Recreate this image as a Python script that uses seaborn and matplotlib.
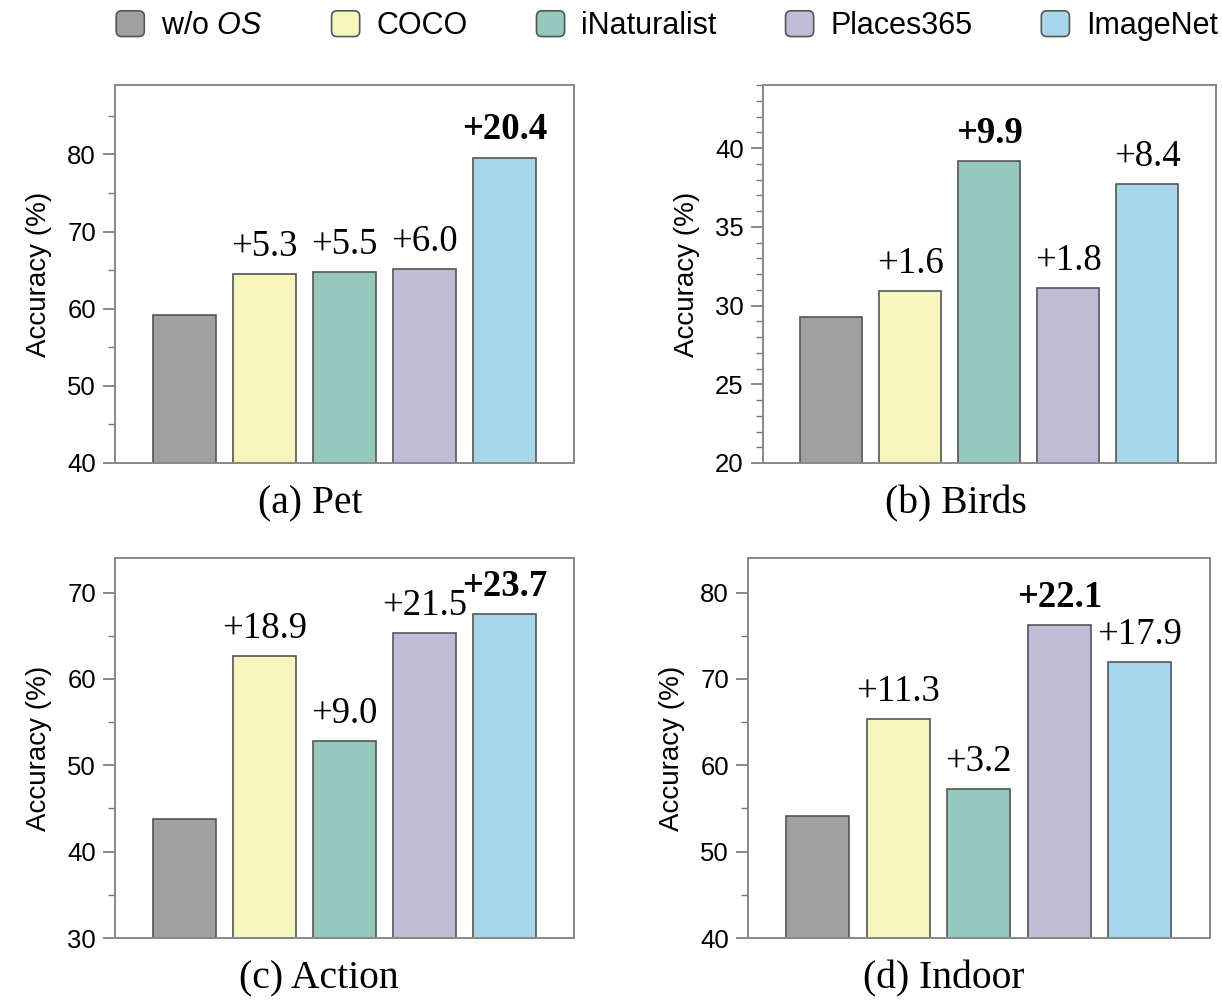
import matplotlib
matplotlib.use("Agg")
import matplotlib.pyplot as plt
import seaborn as sns
from matplotlib.patches import Patch, FancyBboxPatch
from matplotlib.legend_handler import HandlerPatch
from matplotlib.ticker import MultipleLocator

# Datos del gráfico
methods = ["w/o OS", "COCO", "iNaturalist", "Places365", "ImageNet"]
legend_labels = [r"w/o $\mathit{OS}$", "COCO", "iNaturalist", "Places365", "ImageNet"]
colors = ["#a0a0a0", "#f5f5bd", "#95c9be", "#c1bcd6", "#a7d7ea"]

panel_titles = ["(a) Pet", "(b) Birds", "(c) Action", "(d) Indoor"]
pet_acc = [59.2, 64.5, 64.7, 65.2, 79.6]
birds_acc = [29.3, 30.9, 39.2, 31.1, 37.7]
action_acc = [43.8, 62.7, 52.8, 65.3, 67.5]
indoor_acc = [54.1, 65.4, 57.3, 76.2, 72.0]
gain_labels = [
    ["", "+5.3", "+5.5", "+6.0", "+20.4"],
    ["", "+1.6", "+9.9", "+1.8", "+8.4"],
    ["", "+18.9", "+9.0", "+21.5", "+23.7"],
    ["", "+11.3", "+3.2", "+22.1", "+17.9"],
]
y_limits = [(40, 89), (20, 44), (30, 74), (40, 84)]
major_steps = [10, 5, 10, 10]
minor_steps = [5, 1, 5, 5]

sns.set_style("ticks")
plt.rcParams["font.family"] = ["Liberation Sans", "DejaVu Sans"]
plt.rcParams["mathtext.fontset"] = "custom"
plt.rcParams["mathtext.it"] = "Liberation Sans:italic"
plt.rcParams["mathtext.rm"] = "Liberation Sans"
plt.rcParams["text.color"] = "black"
plt.rcParams["axes.labelcolor"] = "black"
serif = ["Liberation Serif", "DejaVu Serif"]
edge = "#555555"

fig = plt.figure(figsize=(12.22, 10), dpi=100)
positions = [
    [0.094, 0.537, 0.376, 0.378],
    [0.624, 0.537, 0.371, 0.378],
    [0.094, 0.062, 0.376, 0.380],
    [0.612, 0.062, 0.378, 0.380],
]
title_x = [0.426, 0.427, 0.445, 0.424]
all_acc = [pet_acc, birds_acc, action_acc, indoor_acc]

for i, acc in enumerate(all_acc):
    ax = fig.add_axes(positions[i])
    sns.barplot(x=methods, y=acc, hue=methods, palette=colors, legend=False,
                saturation=1, width=0.78, edgecolor=edge, linewidth=1.2, ax=ax)
    ax.set_xlim(-0.87, 4.87)
    ax.set_ylim(*y_limits[i])
    ax.yaxis.set_major_locator(MultipleLocator(major_steps[i]))
    ax.yaxis.set_minor_locator(MultipleLocator(minor_steps[i]))
    ax.tick_params(axis="y", which="major", length=8.5, width=1.2, color="#777777",
                   labelsize=18.5, labelcolor="black", pad=5)
    ax.tick_params(axis="y", which="minor", length=5, width=1.0, color="#777777")
    ax.tick_params(axis="x", length=0, labelbottom=False)
    for sp in ax.spines.values():
        sp.set_color("#888888")
        sp.set_linewidth(1.4)
    ax.set_ylabel("Accuracy (%)", fontsize=20, labelpad=11)
    ax.set_xlabel(panel_titles[i], fontsize=28.5, family=serif)
    ax.xaxis.set_label_coords(title_x[i], -0.06)
    ax.xaxis.label.set_verticalalignment("top")

    # Etiquetas de ganancia encima de cada barra
    best = max(range(1, 5), key=lambda k: acc[k])
    for k in range(1, 5):
        ax.annotate(gain_labels[i][k], (k, acc[k]), xytext=(0, 13),
                    textcoords="offset points", ha="center", va="baseline",
                    fontsize=26.5, family=serif,
                    fontweight="bold" if k == best else "normal")


def rounded_box(legend, orig_handle, xdescent, ydescent, width, height, fontsize):
    return FancyBboxPatch((-xdescent, -ydescent), width, height,
                          boxstyle="round,pad=0,rounding_size=4")


handles = [Patch(facecolor=c, edgecolor=edge, linewidth=1.2) for c in colors]
fig.legend(handles, legend_labels, loc="center", bbox_to_anchor=(0.546, 0.974),
           ncol=5, frameon=False, fontsize=22, handlelength=0.92, handleheight=0.92,
           handletextpad=0.55, columnspacing=2.25,
           handler_map={Patch: HandlerPatch(patch_func=rounded_box)})

fig.savefig("out.png", dpi=100)
